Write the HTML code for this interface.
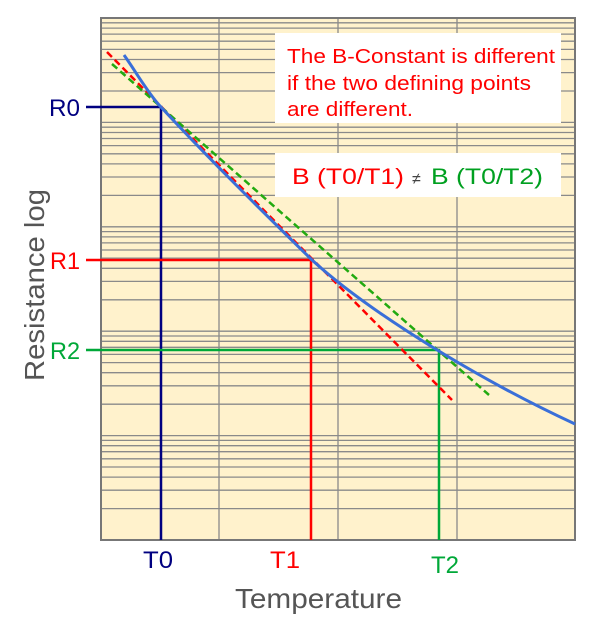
<!DOCTYPE html>
<html><head><meta charset="utf-8"><style>
html,body{margin:0;padding:0;background:#fff;}
svg{display:block;font-family:"Liberation Sans",sans-serif;}
</style></head><body>
<svg width="600" height="630" viewBox="0 0 600 630" xmlns="http://www.w3.org/2000/svg">
<rect x="101" y="18" width="474" height="522" fill="#fff2cc"/>
<g stroke="#8a8a8a" stroke-width="1.3">
<path d="M101,22.8H575M101,28.1H575M101,34.1H575M101,41.2H575M101,49.4H575M101,59.5H575M101,72.6H575M101,91H575
M101,122.4H575M101,127.2H575M101,132.5H575M101,138.5H575M101,145.6H575M101,153.8H575M101,163.9H575M101,177H575M101,195.4H575
M101,226.8H575M101,231.6H575M101,236.9H575M101,242.9H575M101,250H575M101,258.2H575M101,268.3H575M101,281.4H575M101,299.8H575
M101,331.2H575M101,336H575M101,341.3H575M101,347.3H575M101,354.4H575M101,362.6H575M101,372.7H575M101,385.8H575M101,404.2H575
M101,435.6H575M101,440.4H575M101,445.7H575M101,451.7H575M101,458.8H575M101,467H575M101,477.1H575M101,490.2H575M101,508.6H575
M219,18V540M338,18V540M457,18V540"/>
</g>
<rect x="101" y="18" width="474" height="522" fill="none" stroke="#777" stroke-width="2"/>
<rect x="275" y="33" width="286" height="90" fill="#fff"/>
<rect x="275" y="153" width="286" height="44" fill="#fff"/>
<g font-size="20" fill="#ff0000">
<text x="287" y="63" textLength="268" lengthAdjust="spacingAndGlyphs">The B-Constant is different</text>
<text x="287" y="90" textLength="244" lengthAdjust="spacingAndGlyphs">if the two defining points</text>
<text x="287" y="116" textLength="126" lengthAdjust="spacingAndGlyphs">are different.</text>
</g>
<text x="292" y="184" font-size="22" fill="#ff0000" textLength="112" lengthAdjust="spacingAndGlyphs">B (T0/T1)</text>
<text x="412" y="184" font-size="16" fill="#444">≠</text>
<text x="431" y="184" font-size="22" fill="#00a020" textLength="112" lengthAdjust="spacingAndGlyphs">B (T0/T2)</text>
<path d="M86,107H161V540" stroke="#000080" stroke-width="2.5" fill="none"/>
<path d="M86,260H311V540" stroke="#ff0000" stroke-width="2.5" fill="none"/>
<path d="M86,350H439V540" stroke="#00a838" stroke-width="2.5" fill="none"/>
<line x1="107" y1="52" x2="452" y2="400" stroke="#ff0000" stroke-width="2.5" stroke-dasharray="7,4"/>
<line x1="112" y1="64" x2="489" y2="395" stroke="#22aa10" stroke-width="2.5" stroke-dasharray="7,4"/>
<path d="M124,55 C136,72 148,93 160,106 C210,160 262,211 312,260 C370,313 480,380 575,424" stroke="#3a6fd8" stroke-width="3" fill="none"/>
<text x="49" y="116" font-size="24" fill="#000080" textLength="31" lengthAdjust="spacingAndGlyphs">R0</text>
<text x="50" y="269" font-size="24" fill="#ff0000" textLength="30" lengthAdjust="spacingAndGlyphs">R1</text>
<text x="50" y="359" font-size="24" fill="#00a838" textLength="30" lengthAdjust="spacingAndGlyphs">R2</text>
<text x="143" y="568" font-size="24" fill="#000080" textLength="30" lengthAdjust="spacingAndGlyphs">T0</text>
<text x="270" y="568" font-size="24" fill="#ff0000" textLength="30" lengthAdjust="spacingAndGlyphs">T1</text>
<text x="431" y="573" font-size="24" fill="#00a838" textLength="28" lengthAdjust="spacingAndGlyphs">T2</text>
<text x="235" y="608" font-size="28" fill="#555" textLength="167" lengthAdjust="spacingAndGlyphs">Temperature</text>
<text transform="translate(44,381) rotate(-90)" font-size="28" fill="#555" textLength="192" lengthAdjust="spacingAndGlyphs">Resistance log</text>
</svg>
</body></html>
